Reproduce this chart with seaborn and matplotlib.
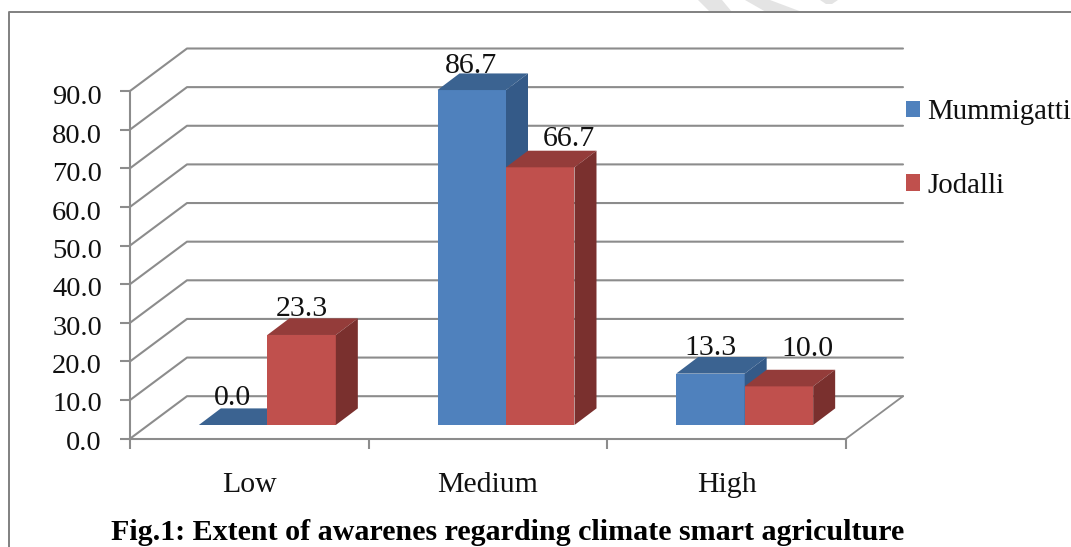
import matplotlib
matplotlib.use('Agg')
import matplotlib.pyplot as plt
from matplotlib.lines import Line2D
from matplotlib.patches import Polygon
from matplotlib.transforms import ScaledTranslation
import pandas as pd
import seaborn as sns

# Values
categories = ['Low', 'Medium', 'High']
mummigatti = [0.0, 86.7, 13.3]
jodalli = [23.3, 66.7, 10.0]
yticks = [0, 10, 20, 30, 40, 50, 60, 70, 80, 90]

df = pd.DataFrame({
    'level': categories * 2,
    'value': mummigatti + jodalli,
    'village': ['Mummigatti'] * 3 + ['Jodalli'] * 3,
})

W, H = 1071, 547
sns.set_style('white')
plt.rcParams['font.family'] = ['Liberation Serif', 'DejaVu Serif']

fig = plt.figure(figsize=(W / 100, H / 100), dpi=100, facecolor='white')
# axes = front plane of the fake 3D box
ax = fig.add_axes([130 / W, (H - 438.7) / H, 716 / W, 347.7 / H])
ax.patch.set_alpha(0)

sns.barplot(data=df, x='level', y='value', hue='village', order=categories,
            palette={'Mummigatti': '#4F81BD', 'Jodalli': '#C0504D'},
            saturation=1, width=0.574, gap=0, legend=False, errorbar=None,
            linewidth=0, ax=ax)
ax.set_xlim(-0.5, 2.5)
ax.set_ylim(0, 90)

# px to data units
px_x = 3 / 716
px_y = 90 / 347.7
wall_dx, wall_dy = 57 * px_x, 42.5 * px_y    # back wall offset
base_dx, base_dy = 18 * px_x, 13.7 * px_y    # bars stand a bit inside the floor
bar_dx, bar_dy = 22 * px_x, 16.6 * px_y      # bar depth

# gridlines on the side wall and back wall
grid = '#8c8c8c'
for v in yticks:
    ax.plot([-0.5, -0.5 + wall_dx, 2.5 + wall_dx],
            [v, v + wall_dy, v + wall_dy],
            color=grid, lw=1.5, clip_on=False, zorder=1)
ax.plot([2.5, 2.5 + wall_dx], [0, wall_dy], color=grid, lw=1.3, clip_on=False, zorder=1)

# side and top faces built from the bars seaborn drew
shades = {'#4F81BD': ('#3B6391', '#345A88'), '#C0504D': ('#943C3A', '#7A302E')}
bars = [p for p in ax.patches if p.get_width() > 0]
for i, p in enumerate(bars):
    z = 3 if i < 3 else 4
    p.set_x(p.get_x() + base_dx)
    p.set_y(base_dy)
    p.set_clip_on(False)
    p.set_zorder(z)
    x0, x1 = p.get_x(), p.get_x() + p.get_width()
    y0, y1 = base_dy, base_dy + p.get_height()
    top, side = shades['#4F81BD'] if i < 3 else shades['#C0504D']
    ax.add_patch(Polygon([(x0, y1), (x1, y1), (x1 + bar_dx, y1 + bar_dy), (x0 + bar_dx, y1 + bar_dy)],
                         fc=top, lw=0, clip_on=False, zorder=z))
    ax.add_patch(Polygon([(x1, y0), (x1, y1), (x1 + bar_dx, y1 + bar_dy), (x1 + bar_dx, y0 + bar_dy)],
                         fc=side, lw=0, clip_on=False, zorder=z))

# data labels sit behind the bars and get partly covered, like in the original
label_shift = [(-1, 27), (-1, 24), (0, 26), (0, 26), (29, 28), (29, 37)]
for i, p in enumerate(bars):
    ax.annotate(f'{p.get_height():.1f}',
                (p.get_x() + p.get_width() / 2, base_dy + p.get_height()),
                xytext=(label_shift[i][0] * 0.72, label_shift[i][1] * 0.72),
                textcoords='offset points', ha='center', va='center',
                fontsize=21.5, color='#111111', zorder=2, annotation_clip=False)

# axes styling
for s in ['top', 'right']:
    ax.spines[s].set_visible(False)
for s in ['left', 'bottom']:
    ax.spines[s].set_color(grid)
    ax.spines[s].set_linewidth(1.5)
ax.set_yticks(yticks, labels=[f'{v:.1f}' for v in yticks])
ax.set_xticks([-0.5, 0.5, 1.5, 2.5], labels=['', '', '', ''])
ax.set_xticks([0, 1, 2], labels=categories, minor=True)
ax.tick_params(axis='y', which='major', left=True, length=7.2, width=1.5, color=grid,
               pad=13, labelsize=20.5, labelcolor='#111111')
ax.tick_params(axis='x', which='major', bottom=True, length=7.2, width=1.5, color=grid)
ax.tick_params(axis='x', which='minor', bottom=False, length=0, pad=24,
               labelsize=21.5, labelcolor='#111111')
ax.set_xlabel('')
ax.set_ylabel('')

# y labels drift a little below their ticks in the original
for v, t in zip(yticks, ax.get_yticklabels()):
    drop = (1.5 + 2.5 * v / 90) / 100
    t.set_transform(t.get_transform() + ScaledTranslation(0, -drop, fig.dpi_scale_trans))

# legend, ends right at the edge as in the reference
handles = [Polygon([(0, 0)], fc='#4F81BD', lw=0), Polygon([(0, 0)], fc='#C0504D', lw=0)]
fig.legend(handles, ['Mummigatti', 'Jodalli'], loc='upper left',
           bbox_to_anchor=(880 / W, 1 - 73 / H), frameon=False, fontsize=20.8,
           handlelength=0.5, handleheight=0.5, handletextpad=0.25, labelspacing=1.65,
           labelcolor='#111111')

# chart frame and faint watermark at the top edge
fig.add_artist(Line2D([9 / W, 9 / W, 1], [0, 1 - 12 / H, 1 - 12 / H], color='#808080', lw=1.4))
for pts in [[(698, 0), (722, 0), (732, 12), (710, 12)],
            [(745, 0), (770, 0), (802, 12), (766, 12)],
            [(820, 0), (838, 0), (832, 4), (826, 4)]]:
    fig.add_artist(Polygon([(x / W, 1 - y / H) for x, y in pts], fc='#e4e4e4', lw=0,
                           transform=fig.transFigure))

fig.text(507.5 / W, 1 - 532.5 / H, 'Fig.1: Extent of awarenes regarding climate smart agriculture',
         ha='center', va='center', fontsize=21.6, fontweight='bold', color='black')

fig.savefig('out.png', dpi=100, facecolor='white')
